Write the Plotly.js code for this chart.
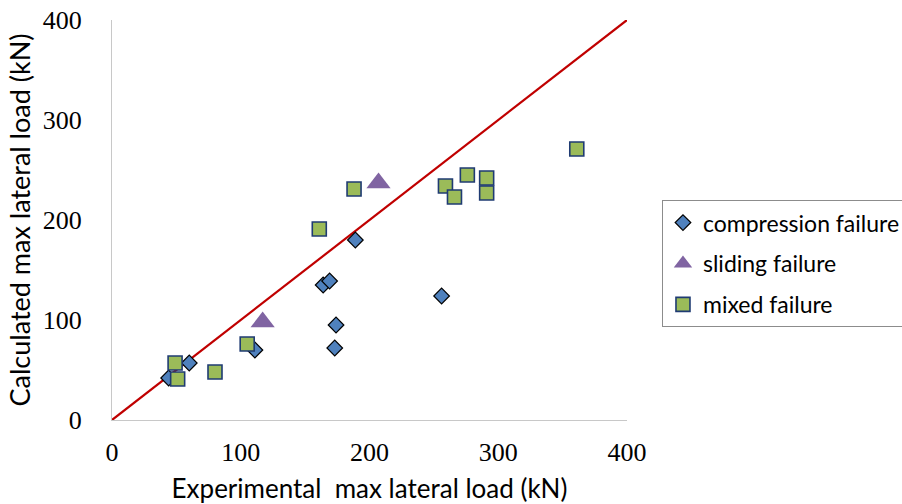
<!DOCTYPE html>
<html>
<head>
<meta charset="utf-8">
<script src="https://cdn.plot.ly/plotly-3.0.1.min.js"></script>
<style>html,body{margin:0;padding:0;background:#fff;}#chart{width:902px;height:504px;}</style>
</head>
<body>
<div id="chart"></div>
<script>
// Compression failure (diamonds)
const compX = [44, 60, 111, 164, 169, 189, 174, 173, 256];
const compY = [42, 57, 70, 135, 139, 180, 95, 72, 124];
// Sliding failure (triangles)
const slideX = [117, 207];
const slideY = [98, 237];
// Mixed failure (squares)
const mixX = [49, 51, 80, 105, 161, 188, 259, 266, 276, 291, 291, 361];
const mixY = [57, 41, 48, 76, 191, 231, 234, 223, 245, 242, 227, 271];
// 1:1 reference line
const lineX = [0, 400];
const lineY = [0, 400];
const tickVals = [0, 100, 200, 300, 400];
const tickText = ['0', '100', '200', '300', '400'];

const sansFont = 'Lato, "Open Sans", sans-serif';

const traces = [
  {x: lineX, y: lineY, mode: 'lines', line: {color: '#C00000', width: 2.2}, showlegend: false, hoverinfo: 'skip'},
  {x: compX, y: compY, mode: 'markers', name: 'compression failure', legendgroup: 'a',
   marker: {symbol: 'diamond', size: 12, color: '#4F81BD', line: {color: '#000000', width: 1.2}}},
  {x: slideX, y: slideY, mode: 'markers', name: 'sliding failure', legendgroup: 'b',
   marker: {symbol: 'triangle-up', size: 21, color: '#8064A2', line: {width: 0}}},
  {x: mixX, y: mixY, mode: 'markers', name: 'mixed failure', legendgroup: 'c',
   marker: {symbol: 'square', size: 14, color: '#9BBB59', line: {color: '#1F3B73', width: 1.6}}}
];

const layout = {
  width: 902, height: 504,
  margin: {l: 112, r: 275, t: 20, b: 84, autoexpand: false},
  paper_bgcolor: '#ffffff', plot_bgcolor: '#ffffff',
  showlegend: true,
  legend: {
    xref: 'container', yref: 'container',
    x: 0.7339, y: 0.603, xanchor: 'left', yanchor: 'top',
    bordercolor: '#8C8C8C', borderwidth: 1, bgcolor: '#ffffff',
    font: {family: sansFont, size: 23, color: '#000000'},
    traceorder: 'grouped', tracegroupgap: 8, itemwidth: 30
  },
  xaxis: {
    range: [0, 400], tickvals: tickVals, ticktext: tickText,
    showgrid: false, zeroline: false, showline: true, linecolor: '#C8C8C8', linewidth: 1,
    ticks: '', ticklabelstandoff: 9,
    tickfont: {family: '"Liberation Serif", "Times New Roman", serif', size: 26, color: '#000000'},
    title: {text: 'Experimental  max lateral load (kN)', standoff: 18,
            font: {family: sansFont, size: 26, color: '#000000'}},
    fixedrange: true
  },
  yaxis: {
    range: [0, 400], tickvals: tickVals, ticktext: tickText,
    showgrid: false, zeroline: false, showline: true, linecolor: '#C8C8C8', linewidth: 1,
    ticks: '', ticklabelstandoff: 24,
    tickfont: {family: '"Liberation Serif", "Times New Roman", serif', size: 26, color: '#000000'},
    title: {text: 'Calculated max lateral load (kN)', standoff: 4,
            font: {family: sansFont, size: 27, color: '#000000'}},
    fixedrange: true
  }
};

Plotly.newPlot('chart', traces, layout, {displayModeBar: false, staticPlot: true});
</script>
</body>
</html>
